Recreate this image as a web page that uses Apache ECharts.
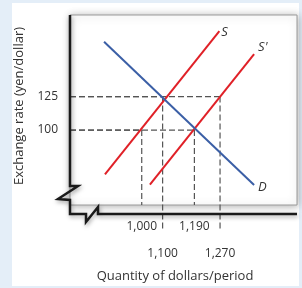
<!DOCTYPE html>
<html>
<head>
<meta charset="utf-8">
<script src="https://cdn.jsdelivr.net/npm/echarts@6/dist/echarts.min.js"></script>
<style>
  html, body { margin: 0; padding: 0; background: #e4eef8; }
  #chart { width: 302px; height: 288px; }
</style>
</head>
<body>
<div id="chart"></div>
<script>
// exchange rate ticks (yen/dollar)
var rateTicks = [100, 125];
// quantity labels; the horizontal axis is not to scale, so each one sits at a sketch position
var qtyLabels = ['1,000', '1,100', '1,190', '1,270'];
var qtyPos = [31.6, 40.8, 54.8, 66.1];
var qtyRate = [100, 125, 100, 125];
// curves, two end points each: [sketch position, rate]
var curveS = [[15.4, 66.8], [65.8, 173.9]];
var curveS2 = [[35.2, 59.2], [81.1, 156.7]];
var curveD = [[15.0, 166.0], [81.1, 59.0]];

var gridL = 70, gridT = 15, gridR = 5, gridB = 74;
var rateMin = 44, rateMax = 186;

var myChart = echarts.init(document.getElementById('chart'));

var txt = '#333';
var font = 'Open Sans';

var guides = [];
for (var i = 0; i < qtyPos.length; i++) {
    // horizontal from the rate axis to the point
    guides.push([[0, qtyRate[i]], [qtyPos[i], qtyRate[i]]]);
    // vertical down to the quantity axis, the 2nd row ones run on past it
    guides.push([[qtyPos[i], qtyRate[i]], [qtyPos[i], i % 2 ? 26.2 : rateMin]]);
}

var series = [];
guides.forEach(function (g) {
    series.push({
        type: 'line',
        data: g,
        symbol: 'none',
        clip: false,
        silent: true,
        z: 1,
        lineStyle: { color: '#555', width: 1.2, type: [6, 3] }
    });
});

function curve(data, color, name, offset) {
    return {
        type: 'line',
        data: data,
        symbol: 'none',
        z: 3,
        lineStyle: { color: color, width: 2 },
        endLabel: {
            show: true,
            formatter: name,
            distance: 2,
            offset: offset,
            color: txt,
            fontFamily: font,
            fontStyle: 'italic',
            fontSize: 13
        }
    };
}
series.push(curve(curveS, '#e02027', 'S', [0, 1]));
series.push(curve(curveS2, '#e02027', "S'", [2, -7]));
series.push(curve(curveD, '#3b5fa6', 'D', [2, 2]));

var option = {
    animation: false,
    backgroundColor: '#e4eef8',
    grid: {
        left: gridL, top: gridT, right: gridR, bottom: gridB,
        show: true,
        backgroundColor: '#fff',
        borderColor: '#999',
        borderWidth: 1,
        shadowBlur: 8,
        shadowColor: 'rgba(0,0,0,0.3)',
        shadowOffsetX: 1,
        shadowOffsetY: 1
    },
    xAxis: {
        type: 'value',
        min: 0,
        max: 100,
        name: 'Quantity of dollars/period',
        nameLocation: 'middle',
        nameGap: 65,
        nameTextStyle: { color: txt, fontFamily: font, fontSize: 13, padding: [0, 17, 0, 0] },
        axisLine: { show: false },
        axisTick: { show: false },
        splitLine: { show: false },
        axisLabel: {
            customValues: qtyPos,
            margin: 16,
            formatter: function (v) {
                var i = qtyPos.indexOf(v);
                return i % 2 ? '{b|' + qtyLabels[i] + '}' : '{a|' + qtyLabels[i] + '}';
            },
            rich: {
                a: { color: txt, fontFamily: font, fontSize: 12 },
                b: { color: txt, fontFamily: font, fontSize: 12, padding: [27, 0, 0, 0] }
            }
        }
    },
    yAxis: {
        type: 'value',
        min: rateMin,
        max: rateMax,
        name: 'Exchange rate (yen/dollar)',
        nameLocation: 'middle',
        nameGap: 44,
        nameRotate: 90,
        nameTextStyle: { color: txt, fontFamily: font, fontSize: 13, padding: [0, 0, 0, 8] },
        axisLine: { show: false },
        axisTick: { show: false },
        splitLine: { show: false },
        axisLabel: {
            customValues: rateTicks,
            margin: 12,
            color: txt,
            fontFamily: font,
            fontSize: 12
        }
    },
    graphic: [
        {
            type: 'rect',
            z: -10,
            shape: { x: 12, y: 3, width: 287, height: 283 },
            style: { fill: '#fff' }
        },
        {
            // axes with the break marks near the origin
            type: 'polyline',
            z: 50,
            shape: {
                points: [[70, 15], [70, 186], [78, 186], [58, 199], [70, 200], [70, 214],
                         [86, 214], [86, 222], [98, 207], [98, 214], [297, 214]]
            },
            style: {
                stroke: '#1a1a1a',
                lineWidth: 2.5,
                fill: null,
                shadowBlur: 4,
                shadowColor: 'rgba(0,0,0,0.35)',
                shadowOffsetX: 1,
                shadowOffsetY: 2
            }
        }
    ],
    series: series
};
myChart.setOption(option);
</script>
</body>
</html>
